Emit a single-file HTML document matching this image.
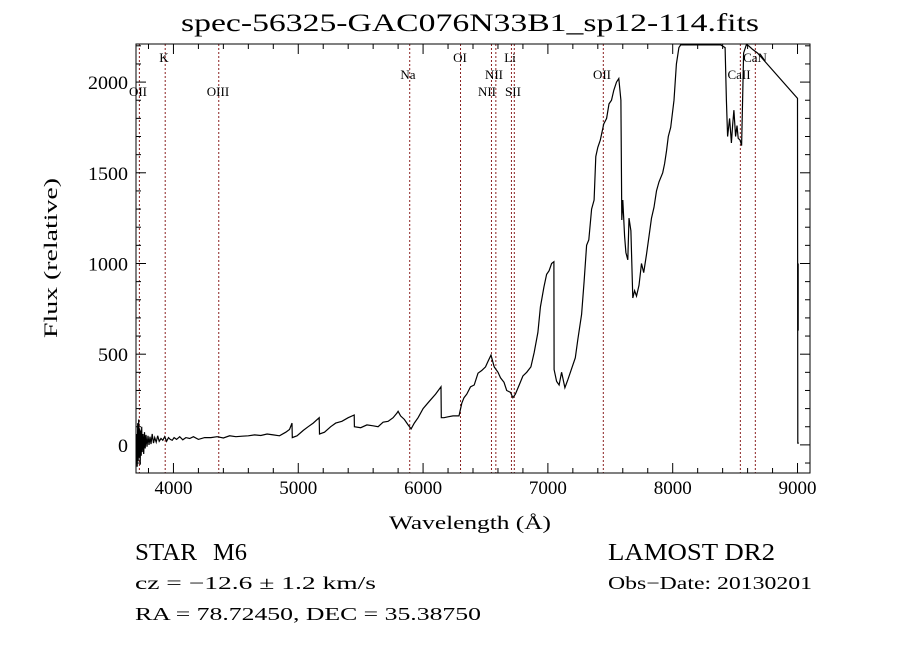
<!DOCTYPE html>
<html><head><meta charset="utf-8"><style>
html,body{margin:0;padding:0;background:#fff;}
svg{display:block;font-family:"Liberation Serif",serif;}
</style></head><body>
<svg id="chart" width="900" height="649" viewBox="0 0 900 649">
<rect x="0" y="0" width="900" height="649" fill="#fff"/>
<text x="470" y="31" text-anchor="middle" font-size="25" textLength="578" lengthAdjust="spacingAndGlyphs">spec-56325-GAC076N33B1_sp12-114.fits</text>
<g id="lines"></g>
<g id="axes"></g>
<g id="series"></g>
<text x="470" y="529" text-anchor="middle" font-size="19" textLength="162" lengthAdjust="spacingAndGlyphs">Wavelength (Å)</text>
<text transform="translate(57,258) rotate(-90)" text-anchor="middle" font-size="19" textLength="160" lengthAdjust="spacingAndGlyphs">Flux (relative)</text>
<text x="135" y="560" font-size="24" textLength="62" lengthAdjust="spacingAndGlyphs">STAR</text>
<text x="213" y="560" font-size="24" textLength="34" lengthAdjust="spacingAndGlyphs">M6</text>
<text x="608" y="560" font-size="24" textLength="167" lengthAdjust="spacingAndGlyphs">LAMOST DR2</text>
<text x="135" y="589" font-size="18" textLength="241" lengthAdjust="spacingAndGlyphs">cz = −12.6 ± 1.2 km/s</text>
<text x="608" y="589" font-size="18" textLength="204" lengthAdjust="spacingAndGlyphs">Obs−Date: 20130201</text>
<text x="135" y="620" font-size="18" textLength="346" lengthAdjust="spacingAndGlyphs">RA =  78.72450, DEC =  35.38750</text>
</svg>
<script>
const wavelengths=[
3705,3710,3714,3718,3722,3726,3730,3734,3738,3742,
3746,3750,3756,3762,3768,3774,3780,3788,3796,3804,
3812,3820,3830,3840,3850,3862,3874,3886,3900,3915,
3930,3945,3960,3975,3990,4005,4025,4050,4075,4100,
4130,4160,4200,4250,4300,4350,4400,4450,4500,4550,
4600,4650,4700,4750,4800,4850,4900,4930,4950,4952,
4990,5040,5080,5120,5168,5170,5210,5260,5300,5350,
5400,5448,5450,5500,5550,5600,5640,5680,5720,5760,
5790,5800,5820,5850,5880,5904,5930,5960,6000,6050,
6100,6144,6146,6168,6200,6240,6288,6310,6328,6350,
6380,6410,6440,6470,6500,6520,6544,6570,6600,6620,
6648,6670,6700,6720,6740,6770,6800,6830,6864,6890,
6920,6940,6968,6990,7010,7030,7048,7050,7070,7090,
7110,7136,7160,7190,7220,7240,7270,7290,7310,7328,
7350,7370,7384,7400,7420,7448,7470,7490,7510,7528,
7550,7568,7585,7592,7600,7615,7625,7640,7650,7665,
7680,7695,7710,7730,7750,7768,7790,7810,7830,7850,
7870,7890,7920,7935,7950,7965,7984,8010,8030,8050,
8064,8200,8384,8420,8430,8440,8456,8470,8480,8490,
8504,8515,8525,8540,8552,8560,8568,8590,8608,8640,
8680,9000,9002,9010];
const fluxes=[
60,-120,120,-90,140,-70,90,-110,80,-60,
100,-40,60,-50,70,-20,55,-10,50,0,
45,5,60,10,40,15,50,20,35,25,
45,20,40,30,25,40,30,45,28,40,
35,45,30,40,40,45,38,50,45,48,
50,55,52,60,55,50,70,85,120,40,
50,80,100,120,150,60,70,100,120,130,
150,165,100,95,110,105,100,125,130,150,
175,185,160,140,110,88,120,150,200,240,
280,320,150,150,155,160,160,230,260,280,
320,330,395,410,430,460,495,430,400,370,
345,300,290,260,280,330,380,400,430,510,
620,760,870,940,960,1000,1010,415,350,330,
400,315,360,420,480,580,720,900,1100,1130,
1300,1350,1590,1640,1680,1770,1800,1880,1900,1955,
2000,2020,1900,1240,1350,1150,1060,1020,1250,1180,
810,850,820,880,1000,950,1050,1150,1250,1310,
1400,1450,1500,1550,1620,1700,1750,1900,2100,2190,
2210,2210,2210,2190,1900,1700,1800,1665,1760,1845,
1700,1760,1690,1680,1650,1900,2160,2210,2200,2180,
2160,1910,10,10];
const lineNames=["OII","K","OIII","Na","OI","NII","NII","Li","SII","OII","CaII","CaN"];
const lineWaves=[3727,3934,4363,5893,6300,6548,6583,6708,6731,7444,8542,8662];
const xTicks=[4000,5000,6000,7000,8000,9000];
const yTicks=[0,500,1000,1500,2000];

const L=136,R=810,T=44,B=473;
const X0=3700,X1=9100,Y0=-155,Y1=2210;
const xs=v=>L+(v-X0)/(X1-X0)*(R-L);
const ys=v=>B-(v-Y0)/(Y1-Y0)*(B-T);
const NS="http://www.w3.org/2000/svg";
function mk(tag,attrs,parent){const e=document.createElementNS(NS,tag);for(const k in attrs)e.setAttribute(k,attrs[k]);parent.appendChild(e);return e;}

const gl=document.getElementById('lines');
const labelY=[96,62,96,79,62,79,96,62,96,79,79,62];
const labelX=[138,164,218,408,460,494,487,510,513,602,739,755];
lineWaves.forEach((w,i)=>{
  const ln=mk('line',{x1:xs(w),x2:xs(w),y1:T,y2:B,stroke:'#8b2020','stroke-width':1,'stroke-dasharray':'2,2'},gl);
  
  
});
lineNames.forEach((t,i)=>{
  const tx=mk('text',{x:labelX[i],y:labelY[i],'font-size':13,'text-anchor':'middle'},gl);
  tx.textContent=t;
  
  
});

const ga=document.getElementById('axes');
const box=mk('rect',{x:L,y:T,width:R-L,height:B-T,fill:'none',stroke:'#000','stroke-width':1},ga);


xTicks.forEach(v=>{
  const x=xs(v);
  mk('line',{x1:x,x2:x,y1:B,y2:B-10,stroke:'#000'},ga);
  mk('line',{x1:x,x2:x,y1:T,y2:T+10,stroke:'#000'},ga);
  const t=mk('text',{x:x,y:B+21,'font-size':19,'text-anchor':'middle',textLength:38,lengthAdjust:'spacingAndGlyphs'},ga);
  t.textContent=v;
  
  
});
for(let v=3800;v<=9000;v+=200){if(v%1000===0)continue;const x=xs(v);
  mk('line',{x1:x,x2:x,y1:B,y2:B-5,stroke:'#000'},ga);mk('line',{x1:x,x2:x,y1:T,y2:T+5,stroke:'#000'},ga);}
yTicks.forEach(v=>{
  const y=ys(v);
  mk('line',{x1:L,x2:L+10,y1:y,y2:y,stroke:'#000'},ga);
  mk('line',{x1:R,x2:R-10,y1:y,y2:y,stroke:'#000'},ga);
  const t=mk('text',{x:L-8,y:y+7,'font-size':19,'text-anchor':'end',textLength:(String(v).length*10),lengthAdjust:'spacingAndGlyphs'},ga);
  t.textContent=v;
  
  
});
for(let v=-100;v<=2200;v+=100){if(v%500===0)continue;const y=ys(v);
  mk('line',{x1:L,x2:L+5,y1:y,y2:y,stroke:'#000'},ga);mk('line',{x1:R,x2:R-5,y1:y,y2:y,stroke:'#000'},ga);}

const gs=document.getElementById('series');
let d='';
wavelengths.forEach((w,i)=>{const f=Math.min(fluxes[i],2205);d+=(i?'L':'M')+xs(w).toFixed(1)+','+ys(f).toFixed(1);});
const p=mk('path',{d:d,fill:'none',stroke:'#000','stroke-width':1.2,'stroke-linejoin':'miter'},gs);


const seg=mk('line',{x1:xs(9004),x2:xs(9004),y1:ys(630),y2:ys(1000),stroke:'#000','stroke-width':1.5},gs);


</script>
</body></html>
